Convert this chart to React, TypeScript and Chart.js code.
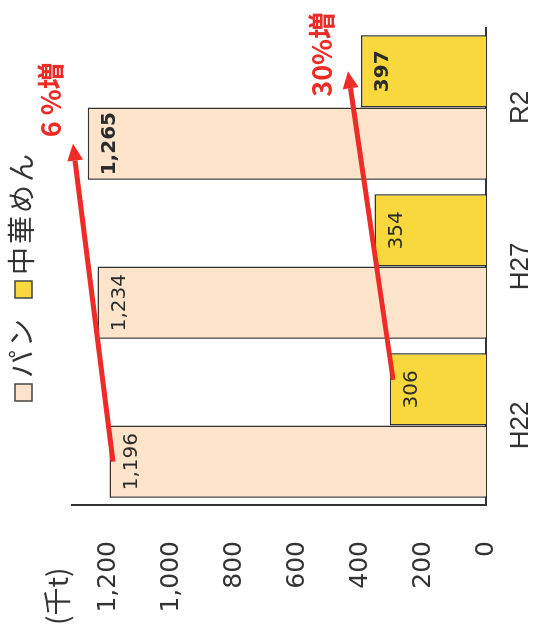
import { useEffect, useRef } from "react";
import { Chart, registerables } from "chart.js";

Chart.register(...registerables);

// ---- data ----
const categories = ["H22", "H27", "R2"];
const seriesNames = ["パン", "中華めん"];
const panValues = [1196, 1234, 1265];
const chukaValues = [306, 354, 397];
const yTickValues = [0, 200, 400, 600, 800, 1000, 1200];
const yMax = 1315;
const unitLabel = "(千t)";
const growthLabels = ["6 %増", "30%増"];
// growth arrows: dataset index, start/end category index and value
const arrowDatasets = [0, 1];
const arrowStartValues = [1185, 295];
const arrowEndValues = [1312, 438];
const arrowStartCats = [0, 0];
const arrowEndCats = [2, 2];

const seriesColors = ["#FDE4CB", "#F8D83C"];
const RED = "#EE2B27";
const TEXT = "#2b2b2b";

function fmt(v: number) {
  return v.toLocaleString("en-US");
}

function drawArrow(ctx: CanvasRenderingContext2D, x1: number, y1: number, x2: number, y2: number) {
  const ang = Math.atan2(y2 - y1, x2 - x1);
  const headLen = 17;
  const headHalf = 8;
  const bx = x2 - headLen * Math.cos(ang);
  const by = y2 - headLen * Math.sin(ang);
  ctx.save();
  ctx.strokeStyle = RED;
  ctx.fillStyle = RED;
  ctx.lineWidth = 5;
  ctx.lineCap = "butt";
  ctx.beginPath();
  ctx.moveTo(x1, y1);
  ctx.lineTo(bx, by);
  ctx.stroke();
  ctx.beginPath();
  ctx.moveTo(x2, y2);
  ctx.lineTo(bx + headHalf * Math.sin(ang), by - headHalf * Math.cos(ang));
  ctx.lineTo(bx - headHalf * Math.sin(ang), by + headHalf * Math.cos(ang));
  ctx.closePath();
  ctx.fill();
  ctx.restore();
}

const overlayPlugin = {
  id: "overlay",
  afterDatasetsDraw(chart: any) {
    const ctx: CanvasRenderingContext2D = chart.ctx;
    chart.data.datasets.forEach((ds: any, di: number) => {
      const meta = chart.getDatasetMeta(di);
      meta.data.forEach((bar: any, i: number) => {
        ctx.save();
        const bold = i === categories.length - 1;
        ctx.font = `${bold ? "bold " : ""}20px "DejaVu Sans"`;
        ctx.fillStyle = TEXT;
        ctx.textAlign = "center";
        ctx.textBaseline = "middle";
        ctx.fillText(fmt(ds.data[i]), bar.x, bar.y + 22);
        ctx.restore();
      });
    });
  },
  afterDraw(chart: any) {
    const ctx: CanvasRenderingContext2D = chart.ctx;
    const y = chart.scales.y;
    const catW = chart.scales.x.width / categories.length;

    // growth arrows
    const tips: { x: number; y: number }[] = [];
    arrowDatasets.forEach((di, k) => {
      const meta = chart.getDatasetMeta(di);
      const shift = k === 1 ? catW * 0.06 : 0;
      const x1 = meta.data[arrowStartCats[k]].x + shift;
      const y1 = y.getPixelForValue(arrowStartValues[k]);
      const x2 = meta.data[arrowEndCats[k]].x;
      const y2 = y.getPixelForValue(arrowEndValues[k]);
      drawArrow(ctx, x1, y1, x2, y2);
      tips.push({ x: x2, y: y2 });
    });

    // growth labels
    const offs = [
      [44, -22],
      [17, -26],
    ];
    growthLabels.forEach((t, k) => {
      ctx.save();
      ctx.font = 'bold 27px "Noto Sans CJK JP"';
      ctx.fillStyle = RED;
      ctx.textAlign = "center";
      ctx.textBaseline = "middle";
      ctx.fillText(t, tips[k].x + offs[k][0], tips[k].y + offs[k][1]);
      ctx.restore();
    });

    // legend
    ctx.save();
    ctx.font = '28px "Noto Sans CJK JP"';
    (ctx as any).letterSpacing = "3px";
    const box = 17;
    const gap = 6;
    const itemGap = 18;
    const widths = seriesNames.map((n) => ctx.measureText(n).width);
    const total = widths.reduce((a, w) => a + box + gap + w, 0) + itemGap * (seriesNames.length - 1);
    let lx = 352 - total / 2;
    const boxTop = 15;
    seriesNames.forEach((n, i) => {
      ctx.fillStyle = seriesColors[i];
      ctx.fillRect(lx, boxTop, box, box);
      ctx.strokeStyle = "#444";
      ctx.lineWidth = 1.5;
      ctx.strokeRect(lx, boxTop, box, box);
      lx += box + gap;
      ctx.fillStyle = "#333";
      ctx.textAlign = "left";
      ctx.textBaseline = "middle";
      ctx.fillText(n, lx, boxTop + box / 2 - 2);
      lx += widths[i] + itemGap;
    });
    ctx.restore();

    // unit label
    ctx.save();
    ctx.font = '28px "Noto Sans CJK JP"';
    ctx.fillStyle = "#333";
    ctx.textAlign = "left";
    ctx.textBaseline = "middle";
    ctx.fillText(unitLabel, 3, 57);
    ctx.restore();
  },
};

export default function App() {
  const ref = useRef<HTMLCanvasElement>(null);

  useEffect(() => {
    if (!ref.current) return;
    const chart = new Chart(ref.current, {
      type: "bar",
      data: {
        labels: categories,
        datasets: [
          {
            label: seriesNames[0],
            data: panValues,
            backgroundColor: seriesColors[0],
            borderColor: "#333",
            borderWidth: 1.5,
            categoryPercentage: 0.91,
            barPercentage: 1.0,
          },
          {
            label: seriesNames[1],
            data: chukaValues,
            backgroundColor: seriesColors[1],
            borderColor: "#333",
            borderWidth: 1.5,
            categoryPercentage: 0.91,
            barPercentage: 1.0,
          },
        ],
      },
      options: {
        responsive: false,
        animation: false,
        layout: { padding: { top: 72, right: 28, left: 0, bottom: 0 } },
        plugins: {
          legend: { display: false },
          tooltip: { enabled: false },
          title: { display: false },
        },
        scales: {
          x: {
            grid: { display: false },
            border: { display: true, color: "#333", width: 2 },
            ticks: {
              color: "#333",
              padding: 11,
              font: { family: "Liberation Sans", size: 26 },
            },
            afterFit: (s: any) => {
              s.height = 47;
            },
          },
          y: {
            min: 0,
            max: yMax,
            grid: { display: false },
            border: { display: true, color: "#333", width: 2 },
            afterBuildTicks: (s: any) => {
              s.ticks = yTickValues.map((v) => ({ value: v }));
            },
            ticks: {
              color: "#333",
              padding: 28,
              font: { family: "DejaVu Sans", size: 25 },
              callback: (v: any) => fmt(Number(v)),
            },
            afterFit: (s: any) => {
              s.width = 123;
            },
          },
        },
      },
      plugins: [overlayPlugin],
    } as any);
    return () => chart.destroy();
  }, []);

  return (
    <div
      style={{
        position: "absolute",
        left: 0,
        top: 0,
        width: 628,
        height: 533,
        transformOrigin: "0 0",
        transform: "translateY(628px) rotate(-90deg)",
        background: "#fff",
      }}
    >
      <canvas ref={ref} width={628} height={533} style={{ display: "block", width: 628, height: 533 }} />
    </div>
  );
}
